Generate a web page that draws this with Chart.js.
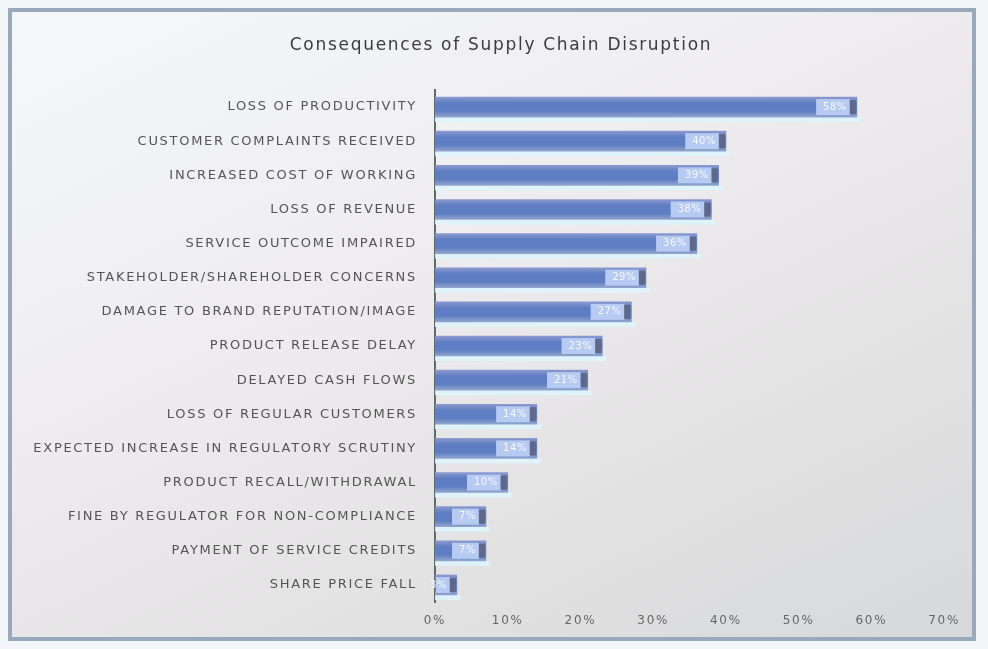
<!DOCTYPE html>
<html>
<head>
<meta charset="utf-8">
<script src="https://cdn.jsdelivr.net/npm/chart.js@4/dist/chart.umd.min.js"></script>
<style>
  html, body { margin: 0; padding: 0; background: #f2f6f9; }
  #frame {
    position: absolute; left: 8px; top: 8px;
    width: 960px; height: 625px;
    border: 4px solid #9aa8bc;
    background: linear-gradient(155deg, #f5f8fb 0%, #eeecee 40%, #e2e1e2 75%, #d6d8da 100%);
  }
  #chart { display: block; }
</style>
</head>
<body>
<div id="frame"><canvas id="chart" width="960" height="625"></canvas></div>
<script>
// Share of respondents reporting each consequence (%)
const chartTitle = 'Consequences of Supply Chain Disruption';
const categories = [
  'LOSS OF PRODUCTIVITY',
  'CUSTOMER COMPLAINTS RECEIVED',
  'INCREASED COST OF WORKING',
  'LOSS OF REVENUE',
  'SERVICE OUTCOME IMPAIRED',
  'STAKEHOLDER/SHAREHOLDER CONCERNS',
  'DAMAGE TO BRAND REPUTATION/IMAGE',
  'PRODUCT RELEASE DELAY',
  'DELAYED CASH FLOWS',
  'LOSS OF REGULAR CUSTOMERS',
  'EXPECTED INCREASE IN REGULATORY SCRUTINY',
  'PRODUCT RECALL/WITHDRAWAL',
  'FINE BY REGULATOR FOR NON-COMPLIANCE',
  'PAYMENT OF SERVICE CREDITS',
  'SHARE PRICE FALL'
];
const values = [58, 40, 39, 38, 36, 29, 27, 23, 21, 14, 14, 10, 7, 7, 3];
const xTicks = [0, 10, 20, 30, 40, 50, 60, 70];

const BAR_H = 20;

// Wider tracking for all chart text
const tracking = {
  id: 'tracking',
  beforeUpdate(chart) { chart.ctx.letterSpacing = '1.7px'; },
  beforeDraw(chart) { chart.ctx.letterSpacing = '1.7px'; }
};

// Heading, centred over the plot and label column together
const heading = {
  id: 'heading',
  afterDraw(chart) {
    const ctx = chart.ctx;
    ctx.save();
    ctx.letterSpacing = '1.7px';
    ctx.font = '17px "DejaVu Sans", sans-serif';
    ctx.fillStyle = '#3c3c3c';
    ctx.textAlign = 'center';
    ctx.textBaseline = 'middle';
    ctx.fillText(chartTitle, 489, 34);
    ctx.restore();
  }
};

// Soft glow beneath each bar
const barGlow = {
  id: 'barGlow',
  beforeDatasetsDraw(chart) {
    const ctx = chart.ctx;
    ctx.save();
    chart.getDatasetMeta(0).data.forEach(bar => {
      ctx.fillStyle = 'rgba(222,244,252,0.9)';
      ctx.fillRect(bar.base, bar.y + BAR_H / 2, bar.x - bar.base + 4, 5);
    });
    ctx.restore();
  }
};

// Value tag drawn just inside the end of each bar
const valueTags = {
  id: 'valueTags',
  afterDatasetsDraw(chart) {
    const ctx = chart.ctx;
    const meta = chart.getDatasetMeta(0);
    ctx.save();
    ctx.letterSpacing = '0.5px';
    ctx.font = '10px "DejaVu Sans", sans-serif';
    ctx.textBaseline = 'middle';
    meta.data.forEach((bar, i) => {
      const txt = values[i] + '%';
      const w = ctx.measureText(txt).width + 10;
      const x1 = bar.x - 7;
      const x0 = Math.max(bar.base + 1, x1 - w);
      ctx.fillStyle = 'rgba(186,207,244,0.95)';
      ctx.fillRect(x0, bar.y - 8, x1 - x0, 16);
      ctx.fillStyle = '#5e6888';
      ctx.fillRect(x1, bar.y - 7, 6, 14);
      ctx.fillStyle = '#f6f9ff';
      ctx.textAlign = 'right';
      ctx.fillText(txt, x1 - 3, bar.y);
    });
    ctx.restore();
  }
};

new Chart(document.getElementById('chart'), {
  type: 'bar',
  data: {
    labels: categories,
    datasets: [{
      data: values,
      backgroundColor(context) {
        const chart = context.chart;
        const yScale = chart.scales.y;
        if (!yScale || context.dataIndex === undefined) return '#5d7dc2';
        const yc = yScale.getPixelForValue(context.dataIndex);
        if (!Number.isFinite(yc)) return '#5d7dc2';
        const g = chart.ctx.createLinearGradient(0, yc - BAR_H / 2, 0, yc + BAR_H / 2);
        g.addColorStop(0, '#8b99cf');
        g.addColorStop(0.3, '#5e7dc2');
        g.addColorStop(0.7, '#5e7dc2');
        g.addColorStop(1, '#92a5cf');
        return g;
      },
      borderWidth: 0,
      barThickness: BAR_H
    }]
  },
  options: {
    indexAxis: 'y',
    responsive: false,
    animation: false,
    layout: { padding: { left: 0, right: 23, top: 78, bottom: 0 } },
    plugins: {
      legend: { display: false },
      tooltip: { enabled: false },
      title: { display: false }
    },
    scales: {
      x: {
        min: 0, max: 70,
        afterBuildTicks(scale) { scale.ticks = xTicks.map(v => ({ value: v })); },
        afterFit(scale) { scale.height = 35; },
        grid: { display: false, drawTicks: false },
        border: { display: false },
        ticks: {
          padding: 12,
          color: '#666666',
          font: { family: '"DejaVu Sans", sans-serif', size: 12 },
          callback: v => v + '%'
        }
      },
      y: {
        afterFit(scale) { scale.width = 423; },
        grid: { display: false, drawTicks: false },
        border: { display: true, color: '#5f6b6b', width: 2 },
        ticks: {
          padding: 18,
          color: '#555555',
          autoSkip: false,
          font: { family: '"DejaVu Sans", sans-serif', size: 13 }
        }
      }
    }
  },
  plugins: [tracking, heading, barGlow, valueTags]
});
</script>
</body>
</html>
